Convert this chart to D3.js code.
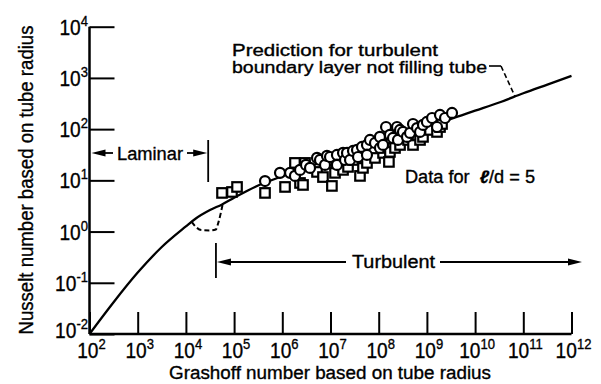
<!DOCTYPE html>
<html>
<head>
<meta charset="utf-8">
<script src="https://cdn.jsdelivr.net/npm/d3@7"></script>
<style>
  html, body { margin: 0; padding: 0; background: #fff; }
  svg { display: block; }
  text { font-family: "Liberation Sans", Arial, sans-serif; fill: #000; stroke: #000; stroke-width: 0.35; }
</style>
</head>
<body>
<svg id="chart" width="601" height="384"></svg>
<script>
// Prediction for turbulent boundary layer (solid curve)
const predictionGr = [1e2, 3.16e2, 1e3, 3.16e3, 1e4, 1.58e4, 3.16e4, 5.62e4, 1e5, 3.16e5, 1e6, 3.16e6,
  1e7, 3.16e7, 1e8, 3.16e8, 1e9, 3.16e9, 1e10, 3.16e10, 1e11, 3.16e11, 1e12];
const predictionNu = [0.01, 0.0417, 0.158, 0.50, 1.26, 1.78, 2.63, 3.39, 4.57, 7.94, 12.0, 17.8,
  26.3, 38.0, 55.0, 79.4, 112, 158, 229, 331, 501, 741, 1096];

// Transition dip (dashed curve)
const transitionGr = [1.32e4, 1.66e4, 2.09e4, 3.16e4, 4.17e4, 4.79e4, 5.75e4];
const transitionNu = [1.55, 1.20, 1.07, 1.05, 1.10, 1.58, 3.3];

// Data for l/d = 5, circles
const circleGr = [4.38e5, 8.96e5, 1.45e6, 1.83e6, 2.33e6, 3.10e6, 3.76e6, 5.25e6, 6.05e6, 7.69e6, 8.46e6, 9.77e6,
  1.36e7, 1.36e7, 1.82e7, 2.00e7, 2.20e7, 2.54e7, 2.93e7, 3.55e7, 3.72e7, 4.50e7, 5.71e7, 5.71e7,
  6.60e7, 8.38e7, 1.06e8, 1.06e8, 1.23e8, 1.42e8, 1.71e8, 1.98e8, 2.40e8, 2.51e8, 2.77e8, 3.19e8,
  3.86e8, 4.46e8, 5.15e8, 6.24e8, 7.20e8, 8.30e8, 1.00e9, 1.28e9, 1.62e9, 1.87e9, 2.38e9, 3.32e9];
const circleNu = [9.7, 14.0, 14.0, 12.2, 16.0, 20.0, 17.5, 27.4, 25.0, 20.0, 30.0, 28.6,
  31.3, 20.0, 34.3, 25.0, 34.3, 25.0, 37.5, 39.3, 28.6, 44.9, 49.1, 31.3,
  61.5, 53.7, 70.5, 42.9, 49.1, 110, 77.1, 67.3, 110, 61.5, 96.4, 88.1,
  70.5, 84.3, 126, 105, 88.1, 121, 138, 165, 110, 189, 165, 207];

// Data for l/d = 5, squares
const squareGr = [5.61e4, 9.04e4, 1.15e5, 4.38e5, 1.14e6, 1.83e6, 2.33e6, 2.69e6, 2.96e6, 5.25e6, 6.98e6, 8.46e6,
  1.07e7, 1.24e7, 1.82e7, 2.31e7, 2.93e7, 4.09e7, 4.72e7, 5.71e7, 8.38e7, 1.23e8, 1.49e8, 1.63e8,
  1.71e8, 2.18e8, 2.77e8, 4.06e8, 5.15e8, 7.20e8, 8.30e8, 1.16e9, 1.62e9, 1.87e9, 2.06e9];
const squareNu = [5.68, 5.93, 7.43, 5.68, 7.43, 21.9, 8.89, 8.13, 21.9, 14.6, 11.6, 21.9,
  7.78, 14.0, 16.0, 18.3, 25.0, 12.2, 17.5, 21.9, 27.4, 34.3, 42.9, 22.9,
  35.9, 42.9, 49.1, 61.5, 49.1, 61.5, 70.5, 96.4, 88.1, 110, 126];

// Tick exponents
const xTickExponents = [2, 3, 4, 5, 6, 7, 8, 9, 10, 11, 12];
const yTickExponents = [-2, -1, 0, 1, 2, 3, 4];

// Flow regime boundaries (Grashoff number)
const laminarEndGr = 2.9e4;
const turbulentStartGr = 4.2e4;
const leaderGr = 6.8e10;

const svg = d3.select("#chart");
const x = d3.scaleLog().domain([1e2, 1e12]).range([89.5, 571.5]);
const y = d3.scaleLog().domain([1e-2, 1e4]).range([334, 26.7]);

// Curves
const line = d3.line().x(d => x(d[0])).y(d => y(d[1])).curve(d3.curveMonotoneX);
svg.append("path")
  .attr("d", line(predictionGr.map((g, i) => [g, predictionNu[i]])))
  .attr("fill", "none").attr("stroke", "#000").attr("stroke-width", 2.3);
svg.append("path")
  .attr("d", line(transitionGr.map((g, i) => [g, transitionNu[i]])))
  .attr("fill", "none").attr("stroke", "#000").attr("stroke-width", 2)
  .attr("stroke-dasharray", "5,3");

// Markers
const side = 9.5;
svg.append("g").selectAll("rect")
  .data(squareGr.map((g, i) => [g, squareNu[i]]))
  .join("rect")
  .attr("x", d => x(d[0]) - side / 2).attr("y", d => y(d[1]) - side / 2)
  .attr("width", side).attr("height", side)
  .attr("fill", "#fff").attr("stroke", "#000").attr("stroke-width", 2.2);
svg.append("g").selectAll("circle")
  .data(circleGr.map((g, i) => [g, circleNu[i]]))
  .join("circle")
  .attr("cx", d => x(d[0])).attr("cy", d => y(d[1])).attr("r", 5)
  .attr("fill", "#fff").attr("stroke", "#000").attr("stroke-width", 2.2);

// Axes with inward ticks
const xAxis = d3.axisBottom(x).tickValues(xTickExponents.map(e => Math.pow(10, e)))
  .tickSize(-22).tickFormat("");
const yAxis = d3.axisLeft(y).tickValues(yTickExponents.map(e => Math.pow(10, e)))
  .tickSize(-25).tickFormat("");
const gx = svg.append("g").attr("transform", `translate(0,${y(1e-2)})`).call(xAxis);
const gy = svg.append("g").attr("transform", `translate(${x(1e2)},0)`).call(yAxis);
[gx, gy].forEach(g => {
  g.select(".domain").attr("stroke", "#000").attr("stroke-width", 2.5);
  g.selectAll(".tick line").attr("stroke", "#000").attr("stroke-width", 2);
});
gx.select(".domain").attr("d", `M${x(1e2)},0H${x(1e12)}`);
gy.select(".domain").attr("d", `M0,${y(1e4)}V${y(1e-2)}`);

// Tick labels: 10 with a superscript exponent, horizontally condensed
const SQUEEZE = 0.87;
function powerLabel(px, py, e, anchor) {
  const t = svg.append("g").attr("transform", `translate(${px},${py}) scale(${SQUEEZE},1)`)
    .append("text").attr("text-anchor", anchor);
  t.append("tspan").text("10").attr("font-size", 22);
  t.append("tspan").text(String(e)).attr("font-size", 15).attr("dy", -9);
}
xTickExponents.forEach(e => powerLabel(x(Math.pow(10, e)) + 2, 358, e, "middle"));
yTickExponents.forEach(e => powerLabel(88, y(Math.pow(10, e)) + (e === -2 ? 4 : 8), e, "end"));

// Plain text fitted to a given width
function label(px, py, str, size, width, anchor) {
  return svg.append("text").attr("x", px).attr("y", py)
    .attr("font-size", size).attr("text-anchor", anchor || "start")
    .attr("textLength", width).attr("lengthAdjust", "spacingAndGlyphs")
    .text(str);
}

// Axis titles
label(330, 379, "Grashoff number based on tube radius", 18, 322, "middle");
label(0, 0, "Nusselt number based on tube radius", 20, 309, "middle")
  .attr("transform", "translate(33,180) rotate(-90)");

// Arrow helper
function arrow(x1, x2, yy) {
  const dir = Math.sign(x2 - x1);
  svg.append("line").attr("x1", x1).attr("x2", x2 - dir * 8).attr("y1", yy).attr("y2", yy)
    .attr("stroke", "#000").attr("stroke-width", 1.8);
  svg.append("path")
    .attr("d", `M${x2},${yy}L${x2 - dir * 14},${yy - 3.5}L${x2 - dir * 14},${yy + 3.5}Z`)
    .attr("fill", "#000");
}

// Laminar region
const xl = x(laminarEndGr);
svg.append("line").attr("x1", xl).attr("x2", xl).attr("y1", 140).attr("y2", 182)
  .attr("stroke", "#000").attr("stroke-width", 1.8);
arrow(113, x(1e2) + 2, 153);
arrow(187, xl - 1, 153);
label(117, 160, "Laminar", 18, 66);

// Turbulent region
const xt = x(turbulentStartGr);
svg.append("line").attr("x1", xt).attr("x2", xt).attr("y1", 243).attr("y2", 278)
  .attr("stroke", "#000").attr("stroke-width", 1.8);
arrow(346, xt + 1, 262);
arrow(440, 582, 262);
label(352, 268, "Turbulent", 18, 83);

// Prediction label with leader
label(232, 56, "Prediction for turbulent", 16, 206);
label(232, 73, "boundary layer not filling tube", 16, 255);
const leadEnd = [x(leaderGr), y(10 ** 2.63)];
svg.append("line").attr("x1", 489).attr("x2", 501).attr("y1", 66).attr("y2", 66)
  .attr("stroke", "#000").attr("stroke-width", 1.6);
svg.append("line").attr("x1", 501).attr("y1", 66).attr("x2", leadEnd[0]).attr("y2", leadEnd[1])
  .attr("stroke", "#000").attr("stroke-width", 1.6).attr("stroke-dasharray", "5,3");

// Data label
const dl = svg.append("text").attr("x", 405).attr("y", 183).attr("font-size", 18)
  .attr("textLength", 130).attr("lengthAdjust", "spacingAndGlyphs");
dl.append("tspan").text("Data for ");
dl.append("tspan").text("ℓ").attr("dx", 5).attr("font-style", "italic").attr("font-weight", "bold");
dl.append("tspan").text("/d = 5");
</script>
</body>
</html>
